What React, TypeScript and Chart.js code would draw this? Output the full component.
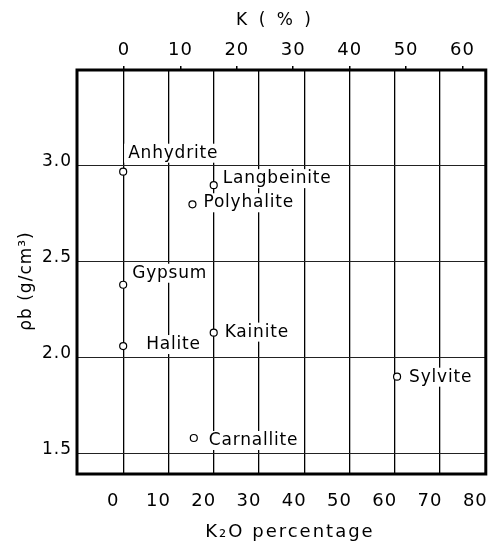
import React, { useEffect, useRef } from 'react';
import { Chart, registerables } from 'chart.js';

Chart.register(...registerables);

// ---- data ----
const minerals = ['Anhydrite', 'Gypsum', 'Halite', 'Langbeinite', 'Polyhalite', 'Kainite', 'Sylvite', 'Carnallite'];
const k2oPercent = [0, 0, 0, 20, 15.3, 20, 60.5, 15.6];
const bulkDensity = [2.97, 2.38, 2.06, 2.9, 2.8, 2.13, 1.9, 1.58];

const k2oTicks = [0, 10, 20, 30, 40, 50, 60, 70, 80];
const kTicks = [0, 10, 20, 30, 40, 50, 60];
const densityTicks = [1.5, 2.0, 2.5, 3.0];

// label placement (pixels, relative to each point: [dx to text start, dy to baseline])
const labelOffsets: [number, number][] = [
  [5, -14], [9, -7], [23, 3], [9, -2], [11, 3], [11, 4], [12, 5], [15, 7],
];

const FONT = '"DejaVu Sans", sans-serif';

const spacingPlugin = {
  id: 'spacing',
  beforeDraw(chart: any) {
    (chart.ctx as any).letterSpacing = '1px';
  },
};

const labelPlugin = {
  id: 'mineralLabels',
  beforeDatasetsDraw(chart: any) {
    const ctx = chart.ctx;
    const meta = chart.getDatasetMeta(0);
    ctx.save();
    ctx.font = `17px ${FONT}`;
    (ctx as any).letterSpacing = '0.8px';
    ctx.textAlign = 'left';
    ctx.textBaseline = 'alphabetic';
    meta.data.forEach((pt: any, i: number) => {
      const [dx, dy] = labelOffsets[i];
      const x = pt.x + dx;
      const y = pt.y + dy;
      const w = ctx.measureText(minerals[i]).width;
      ctx.fillStyle = '#ffffff';
      ctx.fillRect(x - 4, y - 14, w + 8, 19);
      ctx.fillStyle = '#000000';
      ctx.fillText(minerals[i], x, y);
    });
    ctx.restore();
  },
};

const frameTitlePlugin = {
  id: 'frameTitles',
  afterDraw(chart: any) {
    const ctx = chart.ctx;
    const { left, right, top, bottom } = chart.chartArea;
    ctx.save();
    ctx.strokeStyle = '#000';
    ctx.lineWidth = 3;
    ctx.strokeRect(left, top, right - left, bottom - top);

    ctx.fillStyle = '#000';
    ctx.textAlign = 'center';
    ctx.textBaseline = 'middle';

    ctx.font = `17px ${FONT}`;
    (ctx as any).letterSpacing = '3px';
    ctx.fillText('K ( % )', left + 198, top - 49);

    ctx.font = `18px ${FONT}`;
    (ctx as any).letterSpacing = '2px';
    ctx.fillText('K₂O percentage', left + 213, bottom + 58);

    ctx.translate(left - 50, top + 211);
    ctx.rotate(-Math.PI / 2);
    ctx.font = `17px ${FONT}`;
    (ctx as any).letterSpacing = '1px';
    ctx.fillText('ρb (g/cm³)', 0, 0);
    ctx.restore();
  },
};

const fixH = (h: number) => (s: any) => {
  s.height = h;
  s.paddingLeft = 0;
  s.paddingRight = 0;
  s.paddingTop = 0;
  s.paddingBottom = 0;
};

export default function App() {
  const canvasRef = useRef<HTMLCanvasElement | null>(null);

  useEffect(() => {
    if (!canvasRef.current) return;
    const points = k2oPercent.map((x, i) => ({ x, y: bulkDensity[i] }));
    const chart = new Chart(canvasRef.current, {
      type: 'scatter',
      data: {
        datasets: [
          {
            data: points,
            xAxisID: 'x',
            yAxisID: 'y',
            pointRadius: 3.5,
            pointBorderWidth: 1.2,
            pointBorderColor: '#000',
            pointBackgroundColor: '#fff',
          },
        ],
      },
      options: {
        animation: false,
        responsive: true,
        maintainAspectRatio: false,
        layout: { padding: { left: 0, right: 5, top: 0, bottom: 0 } },
        plugins: { legend: { display: false }, tooltip: { enabled: false } },
        scales: {
          x: {
            type: 'linear',
            position: 'bottom',
            min: -10.2,
            max: 80.1,
            afterBuildTicks: (s: any) => { s.ticks = k2oTicks.map((v) => ({ value: v })); },
            afterFit: fixH(73),
            grid: { color: '#000', lineWidth: 1.3, drawTicks: false },
            border: { display: false },
            ticks: {
              autoSkip: false,
              maxRotation: 0,
              padding: 17,
              labelOffset: -10,
              color: '#000',
              font: { family: FONT, size: 18 },
              callback: (v: any) => String(v),
            },
          },
          x2: {
            type: 'linear',
            axis: 'x',
            position: 'top',
            min: -8.33,
            max: 64.13,
            afterBuildTicks: (s: any) => { s.ticks = kTicks.map((v) => ({ value: v })); },
            afterFit: fixH(70),
            grid: { drawOnChartArea: false, drawTicks: true, tickLength: 4, color: '#000', lineWidth: 1.5 },
            border: { display: false },
            ticks: {
              autoSkip: false,
              maxRotation: 0,
              padding: 5,
              color: '#000',
              font: { family: FONT, size: 18 },
              callback: (v: any) => String(v),
            },
          },
          y: {
            type: 'linear',
            position: 'left',
            min: 1.392,
            max: 3.501,
            afterBuildTicks: (s: any) => { s.ticks = densityTicks.map((v) => ({ value: v })); },
            afterFit: (s: any) => {
              s.width = 77;
              s.paddingTop = 0;
              s.paddingBottom = 0;
              s.paddingLeft = 0;
              s.paddingRight = 0;
            },
            grid: { color: '#222', lineWidth: 1, drawTicks: false },
            border: { display: false },
            ticks: {
              autoSkip: false,
              padding: 5,
              labelOffset: -4,
              color: '#000',
              font: { family: FONT, size: 17 },
              callback: (v: any) => Number(v).toFixed(1),
            },
          },
        },
      },
      plugins: [spacingPlugin, labelPlugin, frameTitlePlugin],
    });
    return () => chart.destroy();
  }, []);

  return (
    <div style={{ position: 'absolute', left: 0, top: 0, width: 491, height: 547, background: '#fff' }}>
      <canvas ref={canvasRef} />
    </div>
  );
}
